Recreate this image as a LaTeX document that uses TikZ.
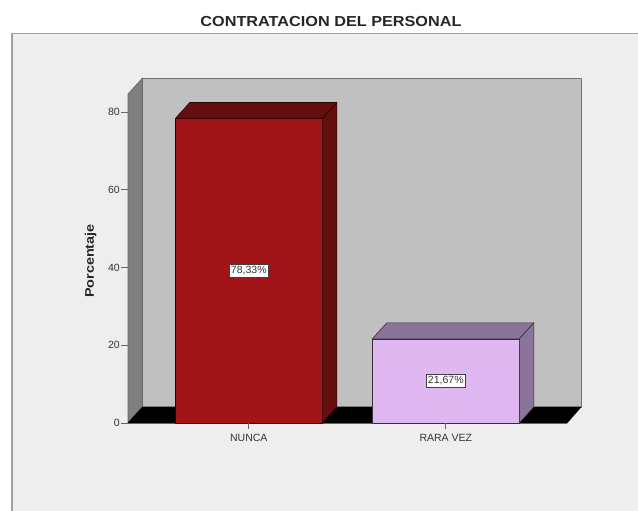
\documentclass[tikz,border=0pt]{standalone}
\usepackage{fontspec}
\setmainfont{Liberation Sans}
\definecolor{pagebg}{HTML}{EEEEEE}
\definecolor{framec}{HTML}{A0A0A0}
\definecolor{backwall}{HTML}{C0C0C0}
\definecolor{sidewall}{HTML}{7F7F7F}
\definecolor{redfront}{HTML}{A11519}
\definecolor{reddark}{HTML}{650E10}
\definecolor{lilfront}{HTML}{DFB8F2}
\definecolor{lildark}{HTML}{8A7499}
\definecolor{txt}{HTML}{333333}
\begin{document}
\begin{tikzpicture}[x=1pt,y=-1pt,
  ticklbl/.style={font=\fontsize{10.5}{11}\selectfont, text=txt, inner sep=0pt, anchor=east},
  catlbl/.style={font=\fontsize{10.5}{11}\selectfont, text=txt, inner sep=0pt},
  vallbl/.style={draw=black!75, fill=white, line width=0.6pt, font=\fontsize{10.5}{11}\selectfont, text=txt, inner xsep=2pt, inner ysep=2pt},
  edge3d/.style={line width=0.6pt, line join=round},
  tickline/.style={draw=black!60, line width=0.8pt}]
\useasboundingbox (0,0) rectangle (638,511);
\fill[white] (0,0) rectangle (638,511);
% outer frame
\fill[pagebg] (11.7,33.7) rectangle (645,520);
\draw[framec, line width=1.6pt] (11.7,520) -- (11.7,33.7) -- (645,33.7);
% title
\node[inner sep=0pt, text=black!85] (title) at (331,22) {\fontsize{14.5}{15}\selectfont\bfseries\scalebox{1.12}[1]{CONTRATACION DEL PERSONAL}};
% walls
\coordinate (fl) at (128,423);
\coordinate (fr) at (567,423);
\coordinate (bl) at (142.5,407);
\coordinate (br) at (581,407);
\coordinate (bt) at (142.5,78);
\coordinate (brt) at (581,78);
\coordinate (ft) at (128,94);
\filldraw[fill=backwall, draw=black!55, edge3d] (bl) rectangle (brt);
\filldraw[fill=sidewall, draw=black!60, edge3d] (fl) -- (bl) -- (bt) -- (ft) -- cycle;
\filldraw[fill=black, draw=black, edge3d] (fl) -- (bl) -- (br) -- (fr) -- cycle;
\draw[black!60, line width=0.8pt] (fl) -- (fr);
% y ticks
\foreach \v in {0,20,40,60,80} {
  \draw[tickline] (120.5,{423-3.8875*\v}) -- (128,{423-3.8875*\v});
  \node[ticklbl] (t\v) at (120,{423-3.8875*\v}) {\v};
}
% axis title
\node[rotate=90, inner sep=0pt, text=black!85] (ylab) at (90.7,261) {\fontsize{12.5}{13}\selectfont\bfseries\scalebox{1.15}[1]{Porcentaje}};
% bar 1
\def\ya{118.5}
\filldraw[fill=redfront, draw=black!80!red, edge3d] (175.3,423) rectangle (322.3,\ya);
\filldraw[fill=reddark, draw=black!80!red, edge3d] (175.3,\ya) -- (189.8,{\ya-16}) -- (336.8,{\ya-16}) -- (322.3,\ya) -- cycle;
\filldraw[fill=reddark, draw=black!80!red, edge3d] (322.3,\ya) -- (336.8,{\ya-16}) -- (336.8,407) -- (322.3,423) -- cycle;
\node[vallbl] (v1) at (248.8,270.5) {78,33\%};
% bar 2
\def\yb{338.8}
\filldraw[fill=lilfront, draw=black!60!lildark, edge3d] (372.3,423) rectangle (519.3,\yb);
\filldraw[fill=lildark, draw=black!60!lildark, edge3d] (372.3,\yb) -- (386.8,{\yb-16}) -- (533.8,{\yb-16}) -- (519.3,\yb) -- cycle;
\filldraw[fill=lildark, draw=black!60!lildark, edge3d] (519.3,\yb) -- (533.8,{\yb-16}) -- (533.8,407) -- (519.3,423) -- cycle;
\node[vallbl] (v2) at (445.8,381) {21,67\%};
% category ticks and labels
\draw[tickline] (248.8,423) -- (248.8,428.5);
\draw[tickline] (445.8,423) -- (445.8,428.5);
\node[catlbl] (c1) at (248.8,438) {NUNCA};
\node[catlbl] (c2) at (445.8,438) {RARA VEZ};
\end{tikzpicture}
\end{document}
